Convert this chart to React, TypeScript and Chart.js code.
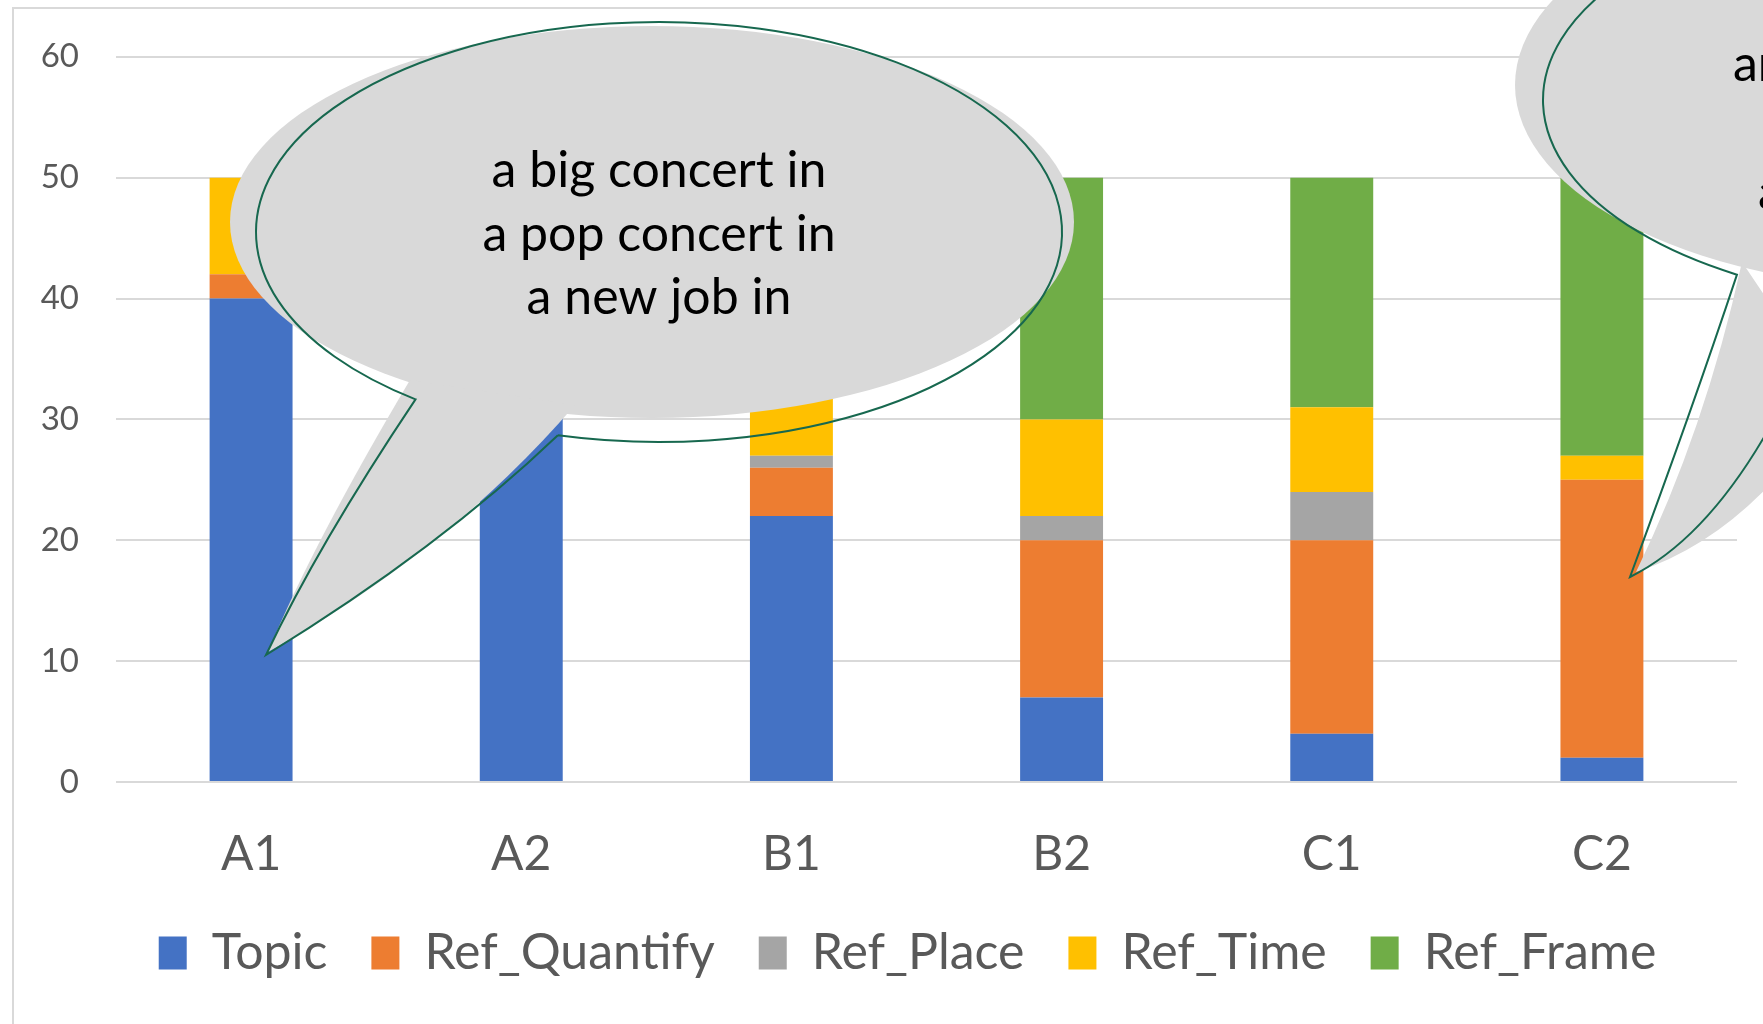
import React, { useEffect, useRef } from "react";
import { Chart, registerables } from "chart.js";

Chart.register(...registerables);

// ---- data ----
const categories = ["A1", "A2", "B1", "B2", "C1", "C2"];
const topic = [40, 45, 22, 7, 4, 2];
const refQuantify = [2, 2, 4, 13, 16, 23];
const refPlace = [0, 0, 1, 2, 4, 0];
const refTime = [8, 3, 5, 8, 7, 2];
const refFrame = [0, 0, 18, 20, 19, 23];
const seriesNames = ["Topic", "Ref_Quantify", "Ref_Place", "Ref_Time", "Ref_Frame"];
const yMin = 0;
const yMax = 60;
const yStep = 10;
const callout1Lines = ["a big concert in", "a pop concert in", "a new job in"];
const callout2Lines = ["an important meeting in", "a wedding in", "a birthday party in"];

const COLORS = ["#4472c4", "#ed7d31", "#a5a5a5", "#ffc000", "#70ad47"];
const FONT = "Lato, 'Open Sans', sans-serif";

const W = 1763;
const H = 1024;

function ellPt(cx: number, cy: number, rx: number, ry: number, px: number, py: number) {
  const a = Math.atan2((py - cy) / ry, (px - cx) / rx);
  return { a, x: cx + rx * Math.cos(a), y: cy + ry * Math.sin(a) };
}

const framePlugin = {
  id: "frame",
  afterLayout(chart: any) {
    // centre the legend row under the plot like the original
    if (chart.legend) {
      chart.legend.left += 21;
      chart.legend.right += 21;
    }
  },
  beforeDraw(chart: any) {
    const ctx = chart.ctx;
    ctx.save();
    ctx.fillStyle = "#ffffff";
    ctx.fillRect(0, 0, chart.width, chart.height);
    ctx.strokeStyle = "#d9d9d9";
    ctx.lineWidth = 2;
    ctx.beginPath();
    ctx.moveTo(13, H + 10);
    ctx.lineTo(13, 8);
    ctx.lineTo(W + 10, 8);
    ctx.stroke();
    ctx.restore();
  },
};

const calloutPlugin = {
  id: "callouts",
  afterDraw(chart: any) {
    const ctx = chart.ctx as CanvasRenderingContext2D;
    const fill = "#d9d9d9";
    const stroke = "#17684f";
    ctx.save();

    // ---------- callout 1 ----------
    ctx.fillStyle = fill;
    ctx.beginPath();
    ctx.ellipse(652, 222, 422, 196, 0, 0, Math.PI * 2);
    ctx.fill();
    ctx.beginPath();
    ctx.moveTo(410, 380);
    ctx.quadraticCurveTo(312, 545, 268, 652);
    ctx.quadraticCurveTo(448, 552, 575, 405);
    ctx.closePath();
    ctx.fill();

    {
      const cx = 659, cy = 232, rx = 403, ry = 210;
      const A = ellPt(cx, cy, rx, ry, 416, 399);
      const B = ellPt(cx, cy, rx, ry, 559, 433);
      ctx.strokeStyle = stroke;
      ctx.lineWidth = 2;
      ctx.beginPath();
      ctx.ellipse(cx, cy, rx, ry, 0, B.a, A.a, true);
      ctx.quadraticCurveTo(318, 545, 266, 655);
      ctx.quadraticCurveTo(440, 548, B.x, B.y);
      ctx.stroke();
    }

    ctx.fillStyle = "#000000";
    ctx.font = `50px ${FONT}`;
    ctx.textAlign = "center";
    ctx.textBaseline = "alphabetic";
    const base1 = [187, 251, 314];
    callout1Lines.forEach((t, i) => ctx.fillText(t, 659, base1[i]));

    // ---------- callout 2 ----------
    ctx.fillStyle = fill;
    ctx.beginPath();
    ctx.ellipse(1935, 85, 420, 205, 0, 0, Math.PI * 2);
    ctx.fill();
    ctx.beginPath();
    ctx.moveTo(1742, 262);
    ctx.quadraticCurveTo(1705, 430, 1636, 572);
    ctx.quadraticCurveTo(1750, 535, 1835, 400);
    ctx.closePath();
    ctx.fill();

    {
      const cx = 1950, cy = 100, rx = 407, ry = 205;
      const A = ellPt(cx, cy, rx, ry, 1739, 273);
      const B = ellPt(cx, cy, rx, ry, 1830, 296);
      ctx.strokeStyle = stroke;
      ctx.lineWidth = 2;
      ctx.beginPath();
      ctx.ellipse(cx, cy, rx, ry, 0, B.a, A.a, true);
      ctx.quadraticCurveTo(1692, 410, 1630, 577);
      ctx.quadraticCurveTo(1745, 520, B.x, B.y);
      ctx.stroke();
    }

    ctx.fillStyle = "#000000";
    ctx.font = `50px ${FONT}`;
    ctx.textAlign = "left";
    const base2 = [81, 145, 209];
    const starts2 = [1733, 1790, 1758];
    callout2Lines.forEach((t, i) => ctx.fillText(t, starts2[i], base2[i]));

    ctx.restore();
  },
};

export default function App() {
  const ref = useRef<HTMLCanvasElement | null>(null);

  useEffect(() => {
    document.body.style.margin = "0";
    const canvas = ref.current;
    if (!canvas) return;
    const series = [topic, refQuantify, refPlace, refTime, refFrame];
    const chart = new Chart(canvas, {
      type: "bar",
      data: {
        labels: categories,
        datasets: series.map((d, i) => ({
          label: seriesNames[i],
          data: d,
          backgroundColor: COLORS[i],
          borderColor: COLORS[i],
          borderWidth: 0,
          barPercentage: 0.307,
          categoryPercentage: 1,
        })),
      },
      options: {
        responsive: false,
        animation: false,
        devicePixelRatio: 1,
        layout: { padding: { top: 53, right: 26, left: 36, bottom: 36 } },
        plugins: {
          tooltip: { enabled: false },
          legend: {
            position: "bottom",
            labels: {
              boxWidth: 28,
              boxHeight: 33,
              padding: 44,
              color: "#595959",
              font: { family: FONT, size: 50 },
            },
          },
        },
        scales: {
          x: {
            stacked: true,
            grid: { display: false, drawTicks: false },
            border: { display: false },
            ticks: {
              color: "#595959",
              font: { family: FONT, size: 48 },
              padding: 44,
              maxRotation: 0,
            },
            afterFit: (s: any) => {
              s.height = 102;
            },
          },
          y: {
            stacked: true,
            min: yMin,
            max: yMax,
            grid: { color: "#d9d9d9", lineWidth: 2, drawTicks: false },
            border: { display: false },
            ticks: {
              stepSize: yStep,
              color: "#595959",
              font: { family: FONT, size: 33 },
              padding: 37,
            },
            afterFit: (s: any) => {
              s.width = 80;
            },
          },
        },
      },
      plugins: [framePlugin, calloutPlugin],
    });
    return () => chart.destroy();
  }, []);

  return (
    <div style={{ position: "fixed", left: 0, top: 0, width: W, height: H }}>
      <canvas ref={ref} width={W} height={H} style={{ display: "block", width: W, height: H }} />
    </div>
  );
}
